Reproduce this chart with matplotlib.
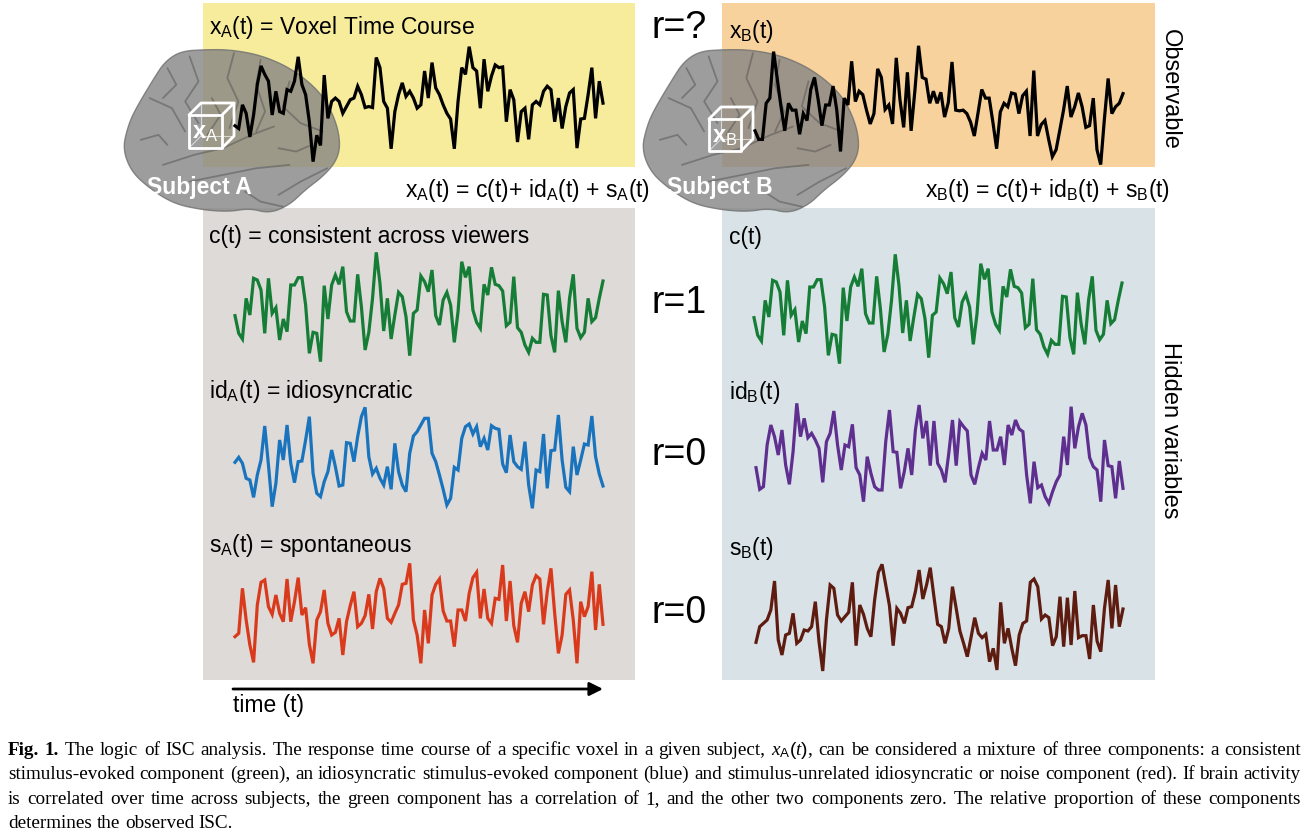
import numpy as np
import matplotlib.pyplot as plt
from matplotlib.patches import Rectangle, Polygon

# ── Data: time courses (arbitrary amplitude units) ──────────────────────────
xA_t = [108, 100, 170, 145, 75, 140, 230, 285, 260, 240, 140, 210, 150, 145, 215, 210, 240, 312, 230, 200,
        120, 2, 80, 50, 258, 130, 180, 190, 180, 145, 165, 185, 190, 225, 200, 162, 165, 162, 310, 280,
        180, 160, 40, 150, 200, 235, 195, 210, 190, 160, 170, 270, 190, 295, 220, 200, 170, 145, 128, 40,
        180, 280, 260, 342, 280, 270, 160, 305, 210, 255, 288, 280, 282, 120, 215, 185, 60, 150, 160, 68,
        170, 180, 170, 210, 225, 215, 120, 190, 100, 165, 205, 215, 42, 128, 130, 200, 280, 130, 240, 175]

xB_t = [100, 75, 75, 180, 195, 330, 250, 170, 100, 180, 160, 160, 90, 150, 130, 220, 255, 190, 115, 175,
        175, 230, 160, 40, 195, 175, 302, 185, 215, 205, 160, 120, 150, 280, 255, 162, 175, 120, 312, 190,
        110, 270, 100, 215, 347, 255, 250, 180, 215, 180, 212, 140, 182, 300, 160, 158, 160, 150, 125, 85,
        152, 220, 195, 195, 125, 48, 155, 180, 170, 210, 207, 150, 202, 215, 85, 275, 85, 118, 130, 75,
        25, 45, 102, 160, 230, 140, 170, 210, 170, 110, 115, 195, 45, 2, 135, 252, 150, 170, 180, 208]

c_t = [138, 85, 68, 190, 140, 250, 245, 215, 85, 250, 145, 162, 65, 128, 90, 230, 230, 252, 252, 170,
       25, 88, 85, 0, 228, 128, 230, 260, 232, 285, 150, 122, 122, 262, 165, 35, 88, 190, 328, 235,
       92, 190, 68, 140, 208, 195, 135, 18, 145, 155, 257, 240, 210, 275, 138, 110, 185, 208, 170, 58,
       150, 300, 253, 285, 155, 118, 100, 232, 200, 283, 232, 228, 212, 108, 118, 255, 102, 88, 50, 28,
       70, 58, 58, 202, 200, 78, 28, 213, 120, 58, 190, 262, 100, 72, 88, 190, 120, 132, 190, 242]

idA_t = [143, 158, 140, 95, 90, 38, 105, 150, 252, 135, 10, 80, 210, 150, 255, 140, 82, 145, 147, 210,
         280, 110, 50, 40, 85, 115, 180, 130, 72, 75, 202, 200, 145, 220, 280, 308, 160, 108, 125, 95,
         75, 130, 62, 200, 115, 75, 55, 170, 222, 235, 255, 275, 275, 170, 145, 105, 62, 15, 35, 128,
         120, 215, 250, 258, 228, 250, 190, 215, 180, 253, 245, 242, 138, 112, 225, 145, 130, 122, 205, 75,
         5, 120, 115, 228, 65, 178, 180, 285, 150, 68, 55, 190, 105, 150, 198, 195, 282, 160, 108, 72]

sA_t = [85, 95, 230, 135, 60, 8, 180, 248, 255, 175, 152, 210, 155, 130, 258, 130, 190, 262, 150, 172,
        62, 5, 135, 160, 225, 125, 90, 98, 140, 30, 130, 178, 220, 115, 125, 148, 212, 108, 220, 260,
        230, 140, 128, 155, 180, 242, 245, 305, 135, 90, 5, 165, 65, 210, 242, 258, 162, 132, 132, 55,
        165, 165, 132, 215, 262, 278, 140, 228, 140, 125, 200, 197, 300, 132, 252, 118, 68, 185, 220, 160,
        240, 268, 258, 122, 220, 290, 155, 35, 90, 212, 225, 135, 5, 190, 145, 175, 280, 105, 242, 122]

idB_t = [112, 47, 55, 180, 240, 205, 150, 225, 120, 62, 160, 305, 205, 260, 202, 215, 195, 170, 68, 190,
         215, 282, 180, 105, 180, 175, 242, 112, 90, 10, 145, 95, 55, 45, 45, 190, 285, 160, 158, 50,
         100, 170, 90, 225, 300, 200, 252, 118, 252, 125, 105, 68, 155, 255, 118, 250, 235, 222, 90, 62,
         112, 155, 135, 252, 165, 165, 205, 120, 240, 210, 255, 228, 220, 90, 5, 130, 52, 60, 25, 5,
         40, 70, 90, 205, 120, 295, 170, 235, 275, 240, 142, 115, 105, 10, 195, 118, 115, 20, 132, 50]

sB_t = [88, 135, 145, 155, 185, 272, 95, 50, 110, 115, 175, 85, 95, 125, 122, 135, 210, 90, 2, 155,
        260, 250, 170, 152, 165, 178, 268, 78, 200, 172, 130, 105, 215, 298, 322, 260, 198, 78, 190, 175,
        145, 192, 195, 240, 305, 218, 260, 312, 225, 142, 135, 85, 130, 255, 190, 122, 85, 45, 102, 162,
        115, 102, 112, 30, 70, 5, 208, 85, 130, 70, 18, 110, 145, 152, 268, 278, 255, 158, 170, 162,
        78, 105, 225, 75, 222, 80, 242, 102, 108, 108, 38, 200, 92, 60, 190, 275, 130, 260, 135, 188]

caption_lines = [
    "Fig. 1.  The logic of ISC analysis. The response time course of a specific voxel in a given subject, "
    "$x_{\\mathrm{A}}(t)$, can be considered a mixture of three components: a consistent",
    "stimulus-evoked component (green), an idiosyncratic stimulus-evoked component (blue) and "
    "stimulus-unrelated idiosyncratic or noise component (red). If brain activity",
    "is correlated over time across subjects, the green component has a correlation of 1, "
    "and the other two components zero. The relative proportion of these components",
    "determines the observed ISC.",
]

# ── Style ──────────────────────────────────────────────────────────────────
plt.rcParams['font.family'] = ['Liberation Sans', 'DejaVu Sans']
plt.rcParams['mathtext.fontset'] = 'custom'
plt.rcParams['mathtext.rm'] = 'Liberation Sans'
plt.rcParams['mathtext.it'] = 'Liberation Serif:italic'

W, H = 1308, 834
LBL = 16.5
BIG = 27

fig = plt.figure(figsize=(W / 100, H / 100), dpi=100)
canvas = fig.add_axes([0, 0, 1, 1])
canvas.set_xlim(0, W)
canvas.set_ylim(H, 0)
canvas.axis('off')

# panel backgrounds
canvas.add_patch(Rectangle((203, 3), 432, 164, fc='#f7ec9c', ec='none', zorder=1))
canvas.add_patch(Rectangle((722, 3), 433, 164, fc='#f8d29c', ec='none', zorder=1))
canvas.add_patch(Rectangle((203, 208), 432, 472, fc='#dddad8', ec='none', zorder=1))
canvas.add_patch(Rectangle((722, 208), 433, 472, fc='#d9e3e7', ec='none', zorder=1))

# ── brain silhouettes (unit coords inside a bbox) ──────────────────────────
BRAIN = [(0.26, 0.02), (0.36, 0.01), (0.49, 0.01), (0.64, 0.05), (0.78, 0.14), (0.90, 0.28),
         (0.96, 0.44), (0.98, 0.58), (0.96, 0.68), (0.90, 0.77), (0.82, 0.85), (0.75, 0.94),
         (0.66, 0.99), (0.57, 0.96), (0.48, 0.98), (0.36, 0.97), (0.22, 0.93), (0.09, 0.81),
         (0.03, 0.72), (0.0, 0.60), (0.02, 0.48), (0.05, 0.38), (0.14, 0.18), (0.19, 0.08)]
SULCI = [
    [(0.18, 0.70), (0.32, 0.64), (0.45, 0.60), (0.58, 0.52), (0.68, 0.47)],
    [(0.50, 0.03), (0.47, 0.18), (0.52, 0.32), (0.48, 0.48)],
    [(0.62, 0.07), (0.60, 0.22), (0.64, 0.38), (0.60, 0.50)],
    [(0.30, 0.05), (0.34, 0.20), (0.28, 0.32), (0.34, 0.45)],
    [(0.12, 0.30), (0.22, 0.36), (0.28, 0.50)],
    [(0.75, 0.20), (0.72, 0.35), (0.80, 0.45), (0.90, 0.50)],
    [(0.30, 0.80), (0.45, 0.76), (0.60, 0.72), (0.75, 0.70)],
    [(0.70, 0.88), (0.80, 0.80), (0.92, 0.72)],
    [(0.08, 0.55), (0.16, 0.52), (0.20, 0.58)],
    [(0.40, 0.30), (0.44, 0.40), (0.38, 0.52)],
    [(0.85, 0.58), (0.78, 0.62), (0.70, 0.60)],
    [(0.20, 0.12), (0.24, 0.22), (0.18, 0.30)],
    [(0.55, 0.86), (0.62, 0.92), (0.72, 0.95)],
]


def smooth(pts, n=3):
    p = np.asarray(pts, float)
    for _ in range(n):
        q = np.roll(p, -1, axis=0)
        p = np.column_stack([0.75 * p + 0.25 * q, 0.25 * p + 0.75 * q]).reshape(-1, 2)
    return p


def draw_brain(x0, y0, w, h):
    p = smooth(BRAIN)
    xy = np.column_stack([x0 + p[:, 0] * w, y0 + p[:, 1] * h])
    canvas.add_patch(Polygon(xy, closed=True, fc='#858585', ec='#707070', lw=1,
                             alpha=0.8, zorder=2))
    for s in SULCI:
        s = np.asarray(s)
        canvas.plot(x0 + s[:, 0] * w, y0 + s[:, 1] * h, color='#4a4a4a', lw=1.3,
                    alpha=0.45, zorder=2, solid_capstyle='round')


def draw_cube(x, y, s, d, sub):
    kw = dict(color='white', lw=2, zorder=4, solid_capstyle='round')
    canvas.plot([x, x + s, x + s, x, x], [y, y, y + s, y + s, y], **kw)
    canvas.plot([x, x + d, x + s + d, x + s], [y, y - d, y - d, y], **kw)
    canvas.plot([x + s + d, x + s + d, x + s], [y - d, y + s - d, y + s], **kw)
    faint = dict(color='white', lw=0.8, alpha=0.6, zorder=4)
    canvas.plot([x + d, x + d, x + s + d], [y - d, y + s - d, y + s - d], **faint)
    canvas.plot([x, x + d], [y + s, y + s - d], **faint)
    canvas.text(x + s / 2, y + s / 2 + 1, 'x$_{\\rm %s}$' % sub, color='white',
                fontsize=17, fontweight='bold', ha='center', va='center', zorder=5)


draw_brain(123, 48, 222, 167)
draw_brain(642, 48, 222, 167)
draw_cube(189, 115, 33, 12, 'A')
draw_cube(709, 119, 32, 12, 'B')

# ── texts ──────────────────────────────────────────────────────────────────
def label(x, y, s, **kw):
    kw.setdefault('fontsize', LBL)
    canvas.text(x, y, s, va='baseline', zorder=6, **kw)


label(209, 34, 'x$_{\\rm A}$(t) = Voxel Time Course')
label(729, 38, 'x$_{\\rm B}$(t)')
label(651, 38, 'r=?', fontsize=BIG)
label(147, 194, 'Subject A', color='white', fontweight='bold')
label(667, 194, 'Subject B', color='white', fontweight='bold')
label(650, 197, 'x$_{\\rm A}$(t) = c(t)+ id$_{\\rm A}$(t) + s$_{\\rm A}$(t)', ha='right')
label(1170, 197, 'x$_{\\rm B}$(t) = c(t)+ id$_{\\rm B}$(t) + s$_{\\rm B}$(t)', ha='right')
label(209, 243, 'c(t) = consistent across viewers')
label(729, 244, 'c(t)')
label(651, 313, 'r=1', fontsize=BIG)
label(209, 398, 'id$_{\\rm A}$(t) = idiosyncratic')
label(729, 399, 'id$_{\\rm B}$(t)')
label(651, 465, 'r=0', fontsize=BIG)
label(209, 552, 's$_{\\rm A}$(t) = spontaneous')
label(729, 555, 's$_{\\rm B}$(t)')
label(651, 623, 'r=0', fontsize=BIG)
canvas.text(1170, 89, 'Observable', rotation=270, fontsize=17, ha='center', va='center')
canvas.text(1170, 430, 'Hidden variables', rotation=270, fontsize=17, ha='center', va='center')

canvas.annotate('', xy=(603, 689), xytext=(233, 689),
                arrowprops=dict(arrowstyle='-|>', lw=2, color='black', mutation_scale=20,
                                shrinkA=0, shrinkB=0))
label(233, 712, 'time (t)')

# ── time courses ───────────────────────────────────────────────────────────
def draw_series(vals, box, ylim, color):
    left, right, top, bottom = box
    ax = fig.add_axes([left / W, 1 - bottom / H, (right - left) / W, (bottom - top) / H])
    ax.patch.set_alpha(0)
    ax.plot(np.arange(len(vals)), vals, color=color, lw=2.3, clip_on=False,
            solid_joinstyle='miter')
    ax.set_xlim(0, len(vals) - 1)
    ax.set_ylim(*ylim)
    ax.axis('off')


draw_series(xA_t, (235, 603, 0, 210), (-141, 480), 'black')
draw_series(xB_t, (755, 1123, 0, 210), (-130, 480), 'black')
draw_series(c_t, (235, 603, 245, 365), (-10, 350), '#157d36')
draw_series(c_t, (754, 1122, 247, 367), (-10, 350), '#157d36')
draw_series(idA_t, (235, 603, 400, 510), (0, 330), '#1a74bd')
draw_series(sA_t, (235, 603, 555, 665), (0, 330), '#da3a1c')
draw_series(idB_t, (756, 1123, 395, 505), (0, 330), '#5f2f8f')
draw_series(sB_t, (756, 1123, 555, 675), (-10, 350), '#5e1c10')

# ── caption, justified ─────────────────────────────────────────────────────
CAP_FONT = 'Liberation Serif'
X0, X1 = 8, 1301
renderer = fig.canvas.get_renderer()

# pick the size at which the longest justified line just fits
probe = canvas.text(0, 0, '', family=CAP_FONT, fontsize=10)
widest = 0
for line in caption_lines[:-1]:
    probe.set_text(line.replace('Fig. 1.  ', 'Fig. 1. '))
    widest = max(widest, probe.get_window_extent(renderer).width)
probe.remove()
CAP_FS = 10 * (X1 - X0) / widest * 0.995


def caption_line(line, y, justify=True):
    texts = []
    for i, w in enumerate(line.split()):
        bold = i < 2 and line.startswith('Fig.')
        texts.append(canvas.text(0, y, w, family=CAP_FONT, fontsize=CAP_FS,
                                 fontweight='bold' if bold else 'normal',
                                 va='baseline', ha='left'))
    widths = [t.get_window_extent(renderer).width for t in texts]
    space = CAP_FS * 100 / 72 * 0.25
    gap = (X1 - X0 - sum(widths)) / (len(texts) - 1) if justify else space
    x = X0
    for t, wd in zip(texts, widths):
        t.set_x(x)
        x += wd + gap


baselines = [755, 779, 804, 828]
for i, (line, yb) in enumerate(zip(caption_lines, baselines)):
    caption_line(line, yb, justify=(i < len(caption_lines) - 1))

fig.savefig('out.png', dpi=100)
